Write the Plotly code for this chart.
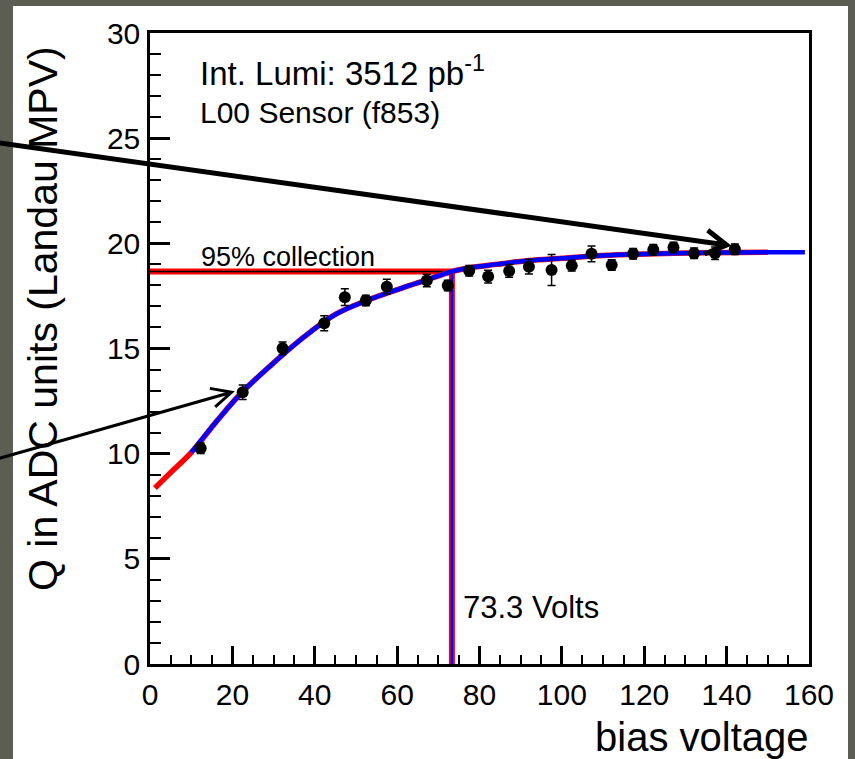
import math
import plotly.graph_objects as go

# ---- data ----
bias_v = [12.3, 22.5, 32.2, 42.3, 47.3, 52.4, 57.5, 67.2, 72.3, 77.5, 82.1, 87.2,
          92.0, 97.5, 102.4, 107.2, 112.1, 117.3, 122.2, 127.1, 132.1, 137.2, 142.0]
q_mpv = [10.26, 12.92, 15.01, 16.20, 17.44, 17.28, 17.94, 18.23, 17.99, 18.70, 18.42, 18.69,
         18.89, 18.73, 18.94, 19.50, 18.97, 19.50, 19.69, 19.80, 19.53, 19.53, 19.72]
q_err = [0.25, 0.35, 0.30, 0.36, 0.40, 0.25, 0.35, 0.30, 0.25, 0.25, 0.30, 0.30,
         0.35, 0.74, 0.25, 0.37, 0.25, 0.25, 0.25, 0.25, 0.25, 0.30, 0.25]

# fit curve
fit_v = [1.2, 5, 10, 16, 22, 29, 37, 45, 53, 61, 67, 73.3, 78, 84, 92, 100, 108, 116, 125, 135, 150, 159]
fit_q = [8.37, 9.1, 10.05, 11.5, 12.85, 14.14, 15.49, 16.62, 17.31, 17.86, 18.25, 18.66,
         18.85, 19.0, 19.18, 19.29, 19.40, 19.47, 19.52, 19.55, 19.58, 19.58]
red_range = (0, 150)     # full function drawn in red
blue_range = (10, 160)   # fit range drawn in blue

v95 = 73.3
q95 = 18.66

x_ticks = [0, 20, 40, 60, 80, 100, 120, 140, 160]
y_ticks = [0, 5, 10, 15, 20, 25, 30]
x_range = [0, 160]
y_range = [0, 30]

# arrow tips (data coords) and tail offsets (pixels)
arrow_tips = [(140.0, 19.92), (19.8, 12.92)]
arrow_tail_px = [(-727, -102), (-232, 66)]
arrow_widths = [5, 3]
arrow_head = [(24, 30), (22, 26)]   # arm length px, half-angle deg

FONT = "Liberation Sans, Arial, Helvetica, sans-serif"

red_v = [v for v in fit_v if red_range[0] <= v <= red_range[1]]
red_q = [q for v, q in zip(fit_v, fit_q) if red_range[0] <= v <= red_range[1]]
blue_v = [v for v in fit_v if blue_range[0] <= v <= blue_range[1]]
blue_q = [q for v, q in zip(fit_v, fit_q) if blue_range[0] <= v <= blue_range[1]]

fig = go.Figure()

# 95% collection lines
fig.add_trace(go.Scatter(x=[0, v95], y=[q95, q95], mode="lines",
                         line=dict(color="#ff0000", width=6), hoverinfo="skip"))
fig.add_trace(go.Scatter(x=[0, v95], y=[q95, q95], mode="lines",
                         line=dict(color="black", width=1.5), hoverinfo="skip"))
fig.add_trace(go.Scatter(x=[v95, v95], y=[0, q95], mode="lines",
                         line=dict(color="#ff0000", width=6), hoverinfo="skip"))
fig.add_trace(go.Scatter(x=[v95, v95], y=[0, q95], mode="lines",
                         line=dict(color="#0000ff", width=2.5), hoverinfo="skip"))

# fit curves
fig.add_trace(go.Scatter(x=red_v, y=red_q, mode="lines",
                         line=dict(color="#ff0000", width=5.5, shape="spline", smoothing=1),
                         hoverinfo="skip"))
fig.add_trace(go.Scatter(x=blue_v, y=blue_q, mode="lines",
                         line=dict(color="#0000ff", width=4.5, shape="spline", smoothing=1),
                         hoverinfo="skip"))

# data points
fig.add_trace(go.Scatter(x=bias_v, y=q_mpv, mode="markers",
                         marker=dict(color="black", size=12, symbol="circle"),
                         error_y=dict(type="data", array=q_err, color="black",
                                      thickness=1.5, width=4)))

axis_common = dict(showgrid=False, zeroline=False, showline=True, linecolor="black",
                   linewidth=2.5, mirror=True, ticks="inside", tickcolor="black",
                   tickwidth=2.5, tickfont=dict(family=FONT, size=30, color="black"))

fig.update_xaxes(range=x_range, tickvals=x_ticks, ticklen=18,
                 ticklabelstandoff=2,
                 minor=dict(dtick=5, ticklen=9, tickwidth=2, ticks="inside", tickcolor="black"),
                 **axis_common)
fig.update_yaxes(range=y_range, tickvals=y_ticks, ticklen=20,
                 ticklabelstandoff=1,
                 minor=dict(dtick=1, ticklen=11, tickwidth=2, ticks="inside", tickcolor="black"),
                 **axis_common)

L, R, T, B = 150, 46, 33, 95
W, H = 855, 759
pw, ph = W - L - R, H - T - B


def px_x(p):
    return (p - L) / pw


def px_y(p):
    return (H - B - p) / ph


annotations = [
    dict(xref="paper", yref="paper", x=px_x(43), y=px_y(319), text="Q in ADC units (Landau MPV)",
         textangle=-90, showarrow=False, xanchor="center", yanchor="middle",
         font=dict(family=FONT, size=41, color="black")),
    dict(xref="paper", yref="paper", x=px_x(810), y=px_y(737), text="bias voltage",
         showarrow=False, xanchor="right", yanchor="middle",
         font=dict(family=FONT, size=40, color="black")),
    dict(x=11.6, y=28.2, xref="x", yref="y", text="Int. Lumi: 3512 pb<sup>-1</sup>",
         showarrow=False, xanchor="left", yanchor="middle",
         font=dict(family=FONT, size=33, color="black")),
    dict(x=11.6, y=26.2, xref="x", yref="y", text="L00 Sensor (f853)",
         showarrow=False, xanchor="left", yanchor="middle",
         font=dict(family=FONT, size=30, color="black")),
    dict(x=11.8, y=19.35, xref="x", yref="y", text="95% collection",
         showarrow=False, xanchor="left", yanchor="middle",
         font=dict(family=FONT, size=27, color="black")),
    dict(x=75.6, y=2.7, xref="x", yref="y", text="73.3 Volts",
         showarrow=False, xanchor="left", yanchor="middle",
         font=dict(family=FONT, size=31, color="black")),
]

shapes = [
    dict(type="rect", xref="paper", yref="paper", x0=px_x(13), x1=px_x(848),
         y0=px_y(800), y1=px_y(6), fillcolor="white", line=dict(width=0), layer="below"),
]

# arrows as paper-space paths (tip positioned through the data scales)
for (tv, tq), (dx, dy), w, (alen, ang) in zip(arrow_tips, arrow_tail_px, arrow_widths, arrow_head):
    tx = (tv - x_range[0]) / (x_range[1] - x_range[0])
    ty = (tq - y_range[0]) / (y_range[1] - y_range[0])
    # pixel-space helpers (y down)
    tipx_px = L + tx * pw
    tipy_px = T + (1 - ty) * ph
    tailx_px, taily_px = tipx_px + dx, tipy_px + dy
    bx, by = -dx, -dy
    n = math.hypot(bx, by)
    ux, uy = -bx / n, -by / n   # pointing back from tip toward tail
    arms = []
    for s in (1, -1):
        a = math.radians(ang) * s
        rx = ux * math.cos(a) - uy * math.sin(a)
        ry = ux * math.sin(a) + uy * math.cos(a)
        arms.append((tipx_px + alen * rx, tipy_px + alen * ry))

    def P(x, y):
        return f"{px_x(x):.5f},{px_y(y):.5f}"

    path = (f"M{P(tailx_px, taily_px)} L{P(tipx_px, tipy_px)} "
            f"M{P(*arms[0])} L{P(tipx_px, tipy_px)} L{P(*arms[1])}")
    shapes.append(dict(type="path", xref="paper", yref="paper", path=path,
                       line=dict(color="black", width=w), layer="above"))

fig.update_layout(
    width=W, height=H,
    margin=dict(l=L, r=R, t=T, b=B),
    paper_bgcolor="#5c5e53",
    plot_bgcolor="white",
    showlegend=False,
    annotations=annotations,
    shapes=shapes,
    font=dict(family=FONT, color="black"),
)

fig.write_html("out.html")
